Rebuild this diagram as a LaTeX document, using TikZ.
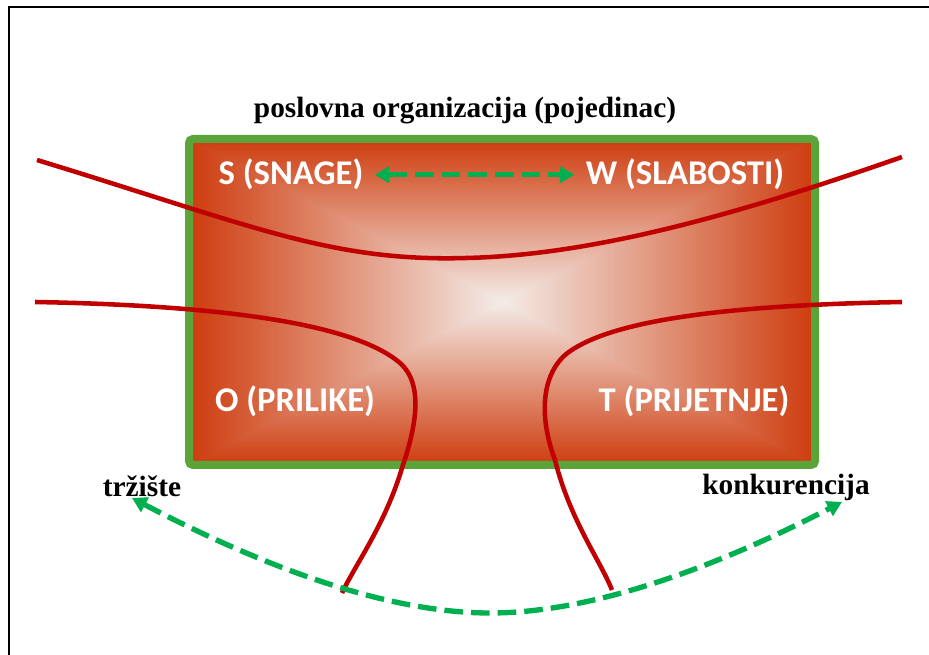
\documentclass[tikz,border=0pt]{standalone}
\usepackage{fontspec}
\setmainfont{Liberation Serif}
\newfontfamily\swotfont{Carlito}
\usetikzlibrary{arrows.meta}

\definecolor{swotred}{RGB}{206,60,14}
\definecolor{swotglow}{RGB}{244,236,232}
\definecolor{swotgreen}{RGB}{90,164,58}
\definecolor{arrowgreen}{RGB}{0,176,80}
\definecolor{cutred}{RGB}{192,0,0}

\tikzset{
  quadrant/.style={font=\swotfont\bfseries\fontsize{26}{30}\selectfont, text=white},
  sidetext/.style={font=\bfseries\fontsize{22}{26}\selectfont},
  cut/.style={draw=cutred, line width=3.4pt},
  garrow/.style={draw=arrowgreen, line width=4pt, dash pattern=on 14pt off 6pt,
    {Triangle[length=11pt,width=12pt]}-{Triangle[length=11pt,width=12pt]}},
}

\begin{document}
\begin{tikzpicture}[x=0.75pt, y=-0.75pt]
    \useasboundingbox (0,0) rectangle (929,655);
    \draw[line width=1.2pt] (9,655) -- (9,7) -- (929,7);

    % organisation box, glow from the centre
    \coordinate (glow) at (502,302);
    \shade[top color=swotred, bottom color=swotglow] (189,139) rectangle (815,302);
    \shade[top color=swotglow, bottom color=swotred] (189,302) rectangle (815,465);
    \begin{scope}
      \clip (189,139) -- (189,465) -- (glow) -- cycle;
      \shade[left color=swotred, right color=swotglow] (189,139) rectangle (502,465);
    \end{scope}
    \begin{scope}
      \clip (815,139) -- (815,465) -- (glow) -- cycle;
      \shade[left color=swotglow, right color=swotred] (502,139) rectangle (815,465);
    \end{scope}
    \draw[swotgreen, line width=6pt, rounded corners=3pt] (189,139) rectangle (815,465);

    \node[sidetext, anchor=base] (title) at (465,118) {poslovna organizacija (pojedinac)};

    % dividing curves
    \draw[cut] (37,160) .. controls (250,225) and (330,262) .. (466,258)
                        .. controls (600,255) and (750,210) .. (902,157);
    \draw[cut] (35,302) .. controls (200,305) and (350,320) .. (400,363)
                        .. controls (425,385) and (415,430) .. (402,468)
                        .. controls (385,525) and (355,565) .. (342,593);
    \draw[cut] (902,302) .. controls (740,305) and (610,318) .. (565,355)
                         .. controls (540,378) and (540,420) .. (555,460)
                         .. controls (570,520) and (600,560) .. (612,590);

    \node[quadrant, anchor=base] (snage) at (291,185) {S (SNAGE)};
    \node[quadrant, anchor=base] (slabosti) at (685,185) {W (SLABOSTI)};
    \node[quadrant, anchor=base] (prilike) at (295,412) {O (PRILIKE)};
    \node[quadrant, anchor=base] (prijetnje) at (694,412) {T (PRIJETNJE)};

    \node[sidetext, anchor=base] (trziste) at (142,497) {tržište};
    \node[sidetext, anchor=base] (konkurencija) at (786,495) {konkurencija};

    \draw[garrow, shorten <=5pt, shorten >=5pt] (snage) -- (slabosti);

    \coordinate (dip) at (490,613);
    \draw[garrow] ([xshift=-7.5pt,yshift=3pt]trziste.south) .. controls (250,560) and (380,613) .. (dip)
                  .. controls (600,613) and (730,560) .. ([xshift=42pt,yshift=3pt]konkurencija.south);
\end{tikzpicture}
\end{document}
